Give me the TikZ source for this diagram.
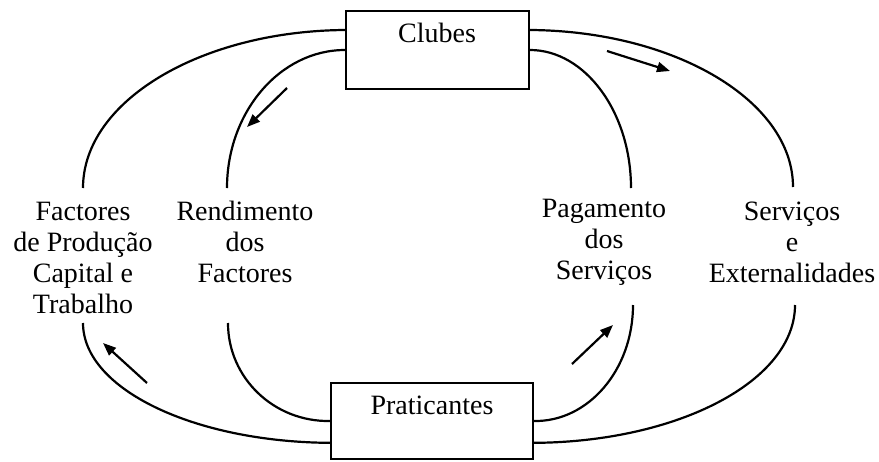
\documentclass[tikz,border=0pt]{standalone}
\usepackage{fontspec}
\setmainfont{Liberation Serif}
\usetikzlibrary{arrows.meta,calc}
\begin{document}
\begin{tikzpicture}[x=0.5pt,y=-0.5pt,
  box/.style={draw,line width=1pt,minimum width=#1,inner sep=0pt},
  lbl/.style={font=\fontsize{14pt}{15.5pt}\selectfont,align=center,inner sep=0pt},
  flow/.style={line width=1.1pt},
  arr/.style={line width=1.1pt,-{Triangle[length=6.5pt,width=5pt]}}]
\useasboundingbox[fill=white] (0,0) rectangle (879,461);
% boxes
\node[box=91.5pt,minimum height=39pt] (clubes) at (437.5,50) {};
\node[lbl] (clubesT) at (437,33) {Clubes};
\node[box=101pt,minimum height=38pt] (prat) at (432,421) {};
\node[lbl] (pratT) at (432,405) {Praticantes};
% labels
\node[lbl] (fact) at (83,258) {Factores\\de Produção\\Capital e\\Trabalho};
\node[lbl] (rend) at (245,242) {Rendimento\\dos\\Factores};
\node[lbl] (pag) at (604,242) {Pagamento\\dos\\Serviços};
\node[lbl] (serv) at (792,242) {Serviços\\e\\Externalidades};
% curve end points
\coordinate (factTop) at (83,188);
\coordinate (factBot) at (83,323);
\coordinate (rendTop) at (227,188);
\coordinate (rendBot) at (228,323);
\coordinate (pagTop) at (631,188);
\coordinate (pagBot) at (633,305);
\coordinate (servTop) at (793,187);
\coordinate (servBot) at (795,305);
% top curves
\draw[flow] ($(clubes.north west)!0.25!(clubes.south west)$) .. controls (201,31) and (83,101) .. (factTop);
\draw[flow] (clubes.west) .. controls (280,50) and (227,112) .. (rendTop);
\draw[flow] ($(clubes.north east)!0.25!(clubes.south east)$) .. controls (675,31) and (793,101) .. (servTop);
\draw[flow] (clubes.east) .. controls (585,50) and (631,112) .. (pagTop);
% bottom curves
\draw[flow] ($(prat.north west)!0.78!(prat.south west)$) .. controls (194,442) and (83,389) .. (factBot);
\draw[flow] (prat.west) .. controls (274,422) and (228,378) .. (rendBot);
\draw[flow] (prat.east) .. controls (588,422) and (633,370) .. (pagBot);
\draw[flow] ($(prat.north east)!0.78!(prat.south east)$) .. controls (678,442) and (795,381) .. (servBot);
% arrows
\coordinate (a1s) at (287,88); \coordinate (a1e) at (247,127);
\coordinate (a2s) at (607,51); \coordinate (a2e) at (670,71);
\coordinate (a3s) at (147,383); \coordinate (a3e) at (103,343);
\coordinate (a4s) at (572,364); \coordinate (a4e) at (613,325);
\draw[arr] (a1s) -- (a1e);
\draw[arr] (a2s) -- (a2e);
\draw[arr] (a3s) -- (a3e);
\draw[arr] (a4s) -- (a4e);
\end{tikzpicture}
\end{document}
